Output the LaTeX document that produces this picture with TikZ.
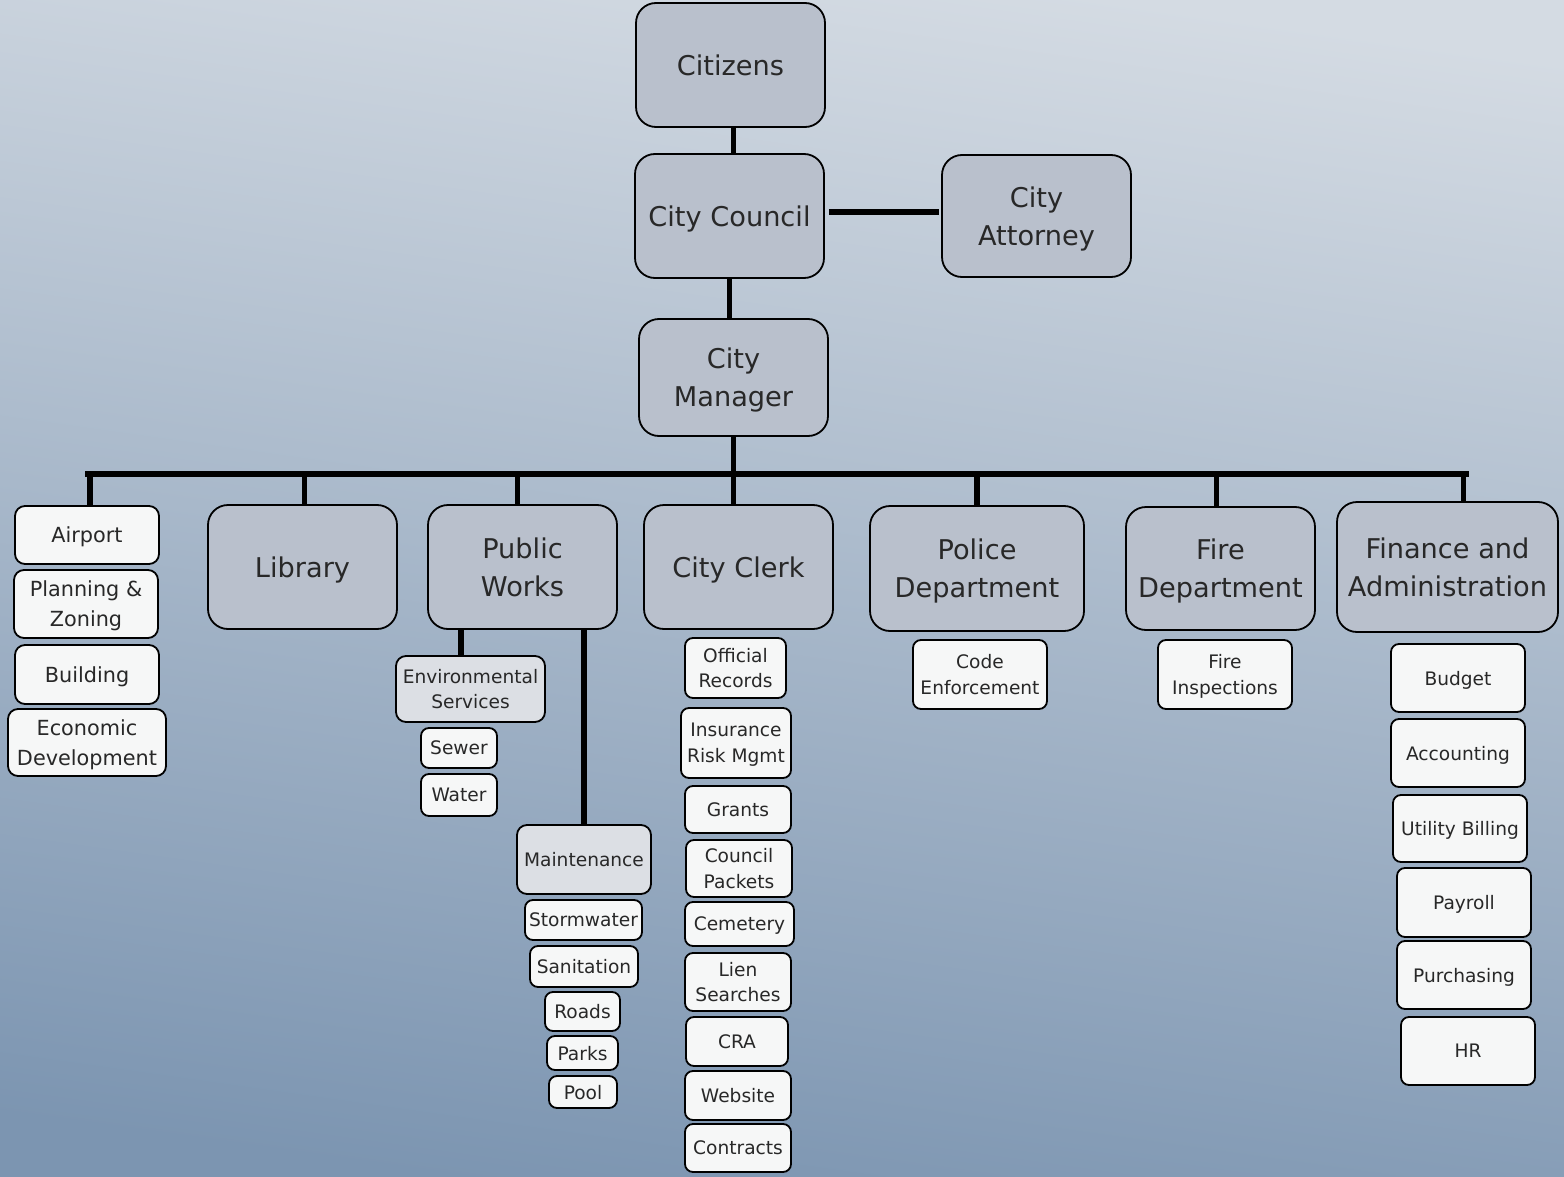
\documentclass[tikz,border=0pt]{standalone}
\usepackage{fontspec}
\setmainfont{DejaVu Sans}
\definecolor{bgtop}{RGB}{212,219,227}
\definecolor{bgbot}{RGB}{124,149,177}
\definecolor{bigfill}{RGB}{185,192,204}
\definecolor{midfill}{RGB}{220,223,228}
\definecolor{smallfill}{RGB}{246,247,247}
\definecolor{txt}{RGB}{40,40,40}
\tikzset{
  base/.style={draw=black, line width=0.9pt, align=center, inner sep=1pt, text=txt, text depth=0pt},
  bigbox/.style={base, fill=bigfill, rounded corners=10pt, font=\fontsize{13.6pt}{19pt}\selectfont},
  leftbox/.style={base, fill=smallfill, rounded corners=5pt, font=\fontsize{10.4pt}{15pt}\selectfont},
  subbox/.style={base, fill=smallfill, rounded corners=4pt, font=\fontsize{9.3pt}{12.8pt}\selectfont},
  midbox/.style={base, fill=midfill, rounded corners=5pt, font=\fontsize{9.3pt}{12.8pt}\selectfont},
  conn/.style={line width=2.6pt, black},
  wh/.style 2 args={minimum width=#1pt, minimum height=#2pt},
}
\begin{document}
\begin{tikzpicture}[x=0.5pt, y=-0.5pt]
\useasboundingbox (0,0) rectangle (1564,1177);
\shade[top color=bgtop, bottom color=bgbot, shading angle=-8] (-20,-20) rectangle (1584,1197);

% top level
\node[bigbox, wh={94.5}{62}] (cit) at (730.5,65) {Citizens};
\node[bigbox, wh={94.5}{62}] (council) at (729.5,216) {City Council};
\node[bigbox, wh={94.5}{61}] (att) at (1036.5,216) {City\\Attorney};
\node[bigbox, wh={94.5}{58.5}] (mgr) at (733.5,377.5) {City\\Manager};

% departments
\node[bigbox, wh={94.5}{62}] (lib) at (302.5,567) {Library};
\node[bigbox, wh={94.5}{62}] (pw) at (522.5,567) {Public\\Works};
\node[bigbox, wh={94.5}{62}] (clerk) at (738.5,567) {City Clerk};
\node[bigbox, wh={107}{62.5}] (police) at (977,568.5) {Police\\Department};
\node[bigbox, wh={94.5}{61.5}] (fire) at (1220.5,568.5) {Fire\\Department};
\node[bigbox, wh={110.5}{65}] (fin) at (1447.5,567) {Finance and\\Administration};

% left column
\node[leftbox, wh={72}{29}] (airport) at (87,535) {Airport};
\node[leftbox, wh={72}{34}] (plan) at (86,604) {Planning \&\\Zoning};
\node[leftbox, wh={72}{29.5}] (build) at (87,674.5) {Building};
\node[leftbox, wh={79}{33.5}] (econ) at (87,742.5) {Economic\\Development};

% public works
\node[midbox, wh={74.5}{33}] (env) at (470.5,689) {Environmental\\Services};
\node[subbox, wh={38}{20}] (sewer) at (459,748) {Sewer};
\node[subbox, wh={38}{21}] (water) at (459,795) {Water};
\node[midbox, wh={67}{34.5}] (maint) at (584,859.5) {Maintenance};
\node[subbox, wh={58.5}{20}] (storm) at (583.5,920) {Stormwater};
\node[subbox, wh={54}{20.5}] (sanit) at (584,966.5) {Sanitation};
\node[subbox, wh={37.5}{19.5}] (roads) at (582.5,1011.5) {Roads};
\node[subbox, wh={35.5}{17}] (parks) at (582.5,1053) {Parks};
\node[subbox, wh={34}{16}] (pool) at (583,1092) {Pool};

% city clerk
\node[subbox, wh={50.5}{30}] (offrec) at (735.5,668) {Official\\Records};
\node[subbox, wh={55}{35}] (insur) at (736,743) {Insurance\\Risk Mgmt};
\node[subbox, wh={53}{23.5}] (grants) at (738,809.5) {Grants};
\node[subbox, wh={53}{28.5}] (packets) at (739,868.5) {Council\\Packets};
\node[subbox, wh={54.5}{22}] (cem) at (739.5,924) {Cemetery};
\node[subbox, wh={53}{29}] (lien) at (738,982) {Lien\\Searches};
\node[subbox, wh={51}{24.5}] (cra) at (737,1041.5) {CRA};
\node[subbox, wh={53}{24.5}] (web) at (738,1095.5) {Website};
\node[subbox, wh={53}{24}] (contr) at (738,1148) {Contracts};

% police / fire
\node[subbox, wh={67}{34.5}] (code) at (980,674.5) {Code\\Enforcement};
\node[subbox, wh={67}{34.5}] (finsp) at (1225,674.5) {Fire\\Inspections};

% finance
\node[subbox, wh={67}{34}] (budget) at (1458,678) {Budget};
\node[subbox, wh={67}{34}] (acct) at (1458,753) {Accounting};
\node[subbox, wh={67}{33.5}] (util) at (1460,828.5) {Utility Billing};
\node[subbox, wh={67}{34.5}] (payroll) at (1464,902.5) {Payroll};
\node[subbox, wh={67}{34}] (purch) at (1464,975) {Purchasing};
\node[subbox, wh={67}{34}] (hr) at (1468,1051) {HR};

% connectors
\coordinate (busL) at (88,474);
\coordinate (busR) at (1466,474);
\draw[conn] ([xshift=1.5pt]cit.south) -- ([xshift=1.5pt]cit.south |- council.north);
\draw[conn] (council.south) -- (council.south |- mgr.north);
\draw[conn, line width=3pt] ([xshift=2pt,yshift=2pt]council.east) -- ([xshift=-1pt,yshift=2pt]att.west);
\draw[conn] (mgr.south) -- (mgr.south |- clerk.north);
\draw[conn, line cap=rect] (busL) -- (busR);
\draw[conn] ([xshift=1.5pt]airport.north) -- ([xshift=1.5pt]airport.north |- busL);
\draw[conn] ([xshift=1pt]lib.north) -- ([xshift=1pt]lib.north |- busL);
\draw[conn] ([xshift=-2.5pt]pw.north) -- ([xshift=-2.5pt]pw.north |- busL);
\draw[conn] (police.north) -- (police.north |- busL);
\draw[conn] ([xshift=-2pt]fire.north) -- ([xshift=-2pt]fire.north |- busL);
\draw[conn] ([xshift=8pt]fin.north) -- ([xshift=8pt]fin.north |- busL);
\draw[conn] ([xshift=-4.75pt]env.north) -- ([xshift=-4.75pt]env.north |- pw.south);
\draw[conn] (maint.north) -- (maint.north |- pw.south);
\end{tikzpicture}
\end{document}
